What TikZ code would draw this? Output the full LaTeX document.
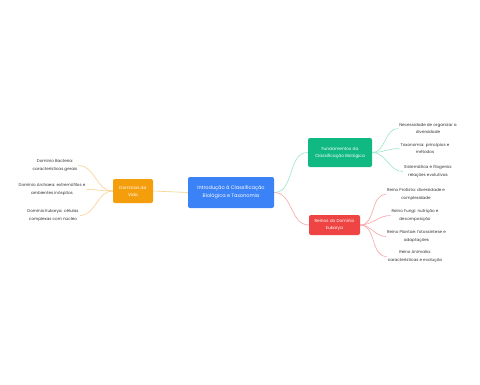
\documentclass[tikz,border=0pt]{standalone}
\usepackage{fontspec}
\setmainfont{Poppins}
\begin{document}
\begin{tikzpicture}[x=1pt,y=-1pt,
  box/.style={rounded corners=2pt,text=white,align=center,inner sep=0pt,font=\fontsize{4.3}{7}\selectfont},
  leaf/.style={align=center,inner sep=1pt,text=black!80,font=\fontsize{4.1}{7.2}\selectfont},
  gline/.style={draw=green!55!teal!40,line width=0.6pt},
  rline/.style={draw=red!35,line width=0.6pt},
  oline/.style={draw=orange!40!yellow!60,line width=0.6pt},
]
\definecolor{cblue}{HTML}{3B82F6}
\definecolor{cgreen}{HTML}{10B981}
\definecolor{cred}{HTML}{EF4444}
\definecolor{corange}{HTML}{F59E0B}
\definecolor{lgreen}{HTML}{99E6C8}
\definecolor{lred}{HTML}{F6A5A9}
\definecolor{lorange}{HTML}{F9D28A}
\tikzset{gline/.style={draw=lgreen,line width=0.6pt},rline/.style={draw=lred,line width=0.6pt},oline/.style={draw=lorange,line width=0.6pt}}
\useasboundingbox[fill=white] (0,0) rectangle (480,384);

\node[box,fill=cblue,minimum width=86pt,minimum height=31pt,font=\fontsize{5}{8}\selectfont] (c) at (231,192.5) {Introdução à Classificação\\Biológica e Taxonomia};
\node[box,fill=cgreen,minimum width=64pt,minimum height=29pt] (f) at (340,152.5) {Fundamentos da\\Classificação Biológica};
\node[box,fill=cred,minimum width=51pt,minimum height=20pt] (r) at (334.5,225) {Reinos do Domínio\\Eukarya};
\node[box,fill=corange,minimum width=40pt,minimum height=24pt] (d) at (133,191) {Domínios da\\Vida};

\node[leaf] (f1) at (428,128.5) {Necessidade de organizar a\\diversidade};
\node[leaf] (f2) at (425,148.5) {Taxonomia: princípios e\\métodos};
\node[leaf] (f3) at (428,171.5) {Sistemática e filogenia:\\relações evolutivas};

\node[leaf] (r1) at (416,194.5) {Reino Protista: diversidade e\\complexidade};
\node[leaf] (r2) at (415,215.5) {Reino Fungi: nutrição e\\decomposição};
\node[leaf] (r3) at (416.5,236.5) {Reino Plantae: fotossíntese e\\adaptações};
\node[leaf] (r4) at (415,256.5) {Reino Animalia:\\características e evolução};

\node[leaf] (d1) at (55,165.5) {Domínio Bacteria:\\características gerais};
\node[leaf] (d2) at (52,189.5) {Domínio Archaea: extremófilos e\\ambientes inóspitos};
\node[leaf] (d3) at (53,215.5) {Domínio Eukarya: células\\complexas com núcleo};

\draw[gline] (c.east) to[out=0,in=180] (f.west);
\draw[rline] (c.east) to[out=0,in=180] (r.west);
\draw[oline] (c.west) -- (d.east);

\foreach \t in {f1,f2,f3} \draw[gline] (f.east) to[out=0,in=180] (\t.west);
\foreach \t in {r1,r2,r3,r4} \draw[rline] (r.east) to[out=0,in=180] (\t.west);
\foreach \t in {d1,d2,d3} \draw[oline] (d.west) to[out=180,in=0] (\t.east);
\end{tikzpicture}
\end{document}
